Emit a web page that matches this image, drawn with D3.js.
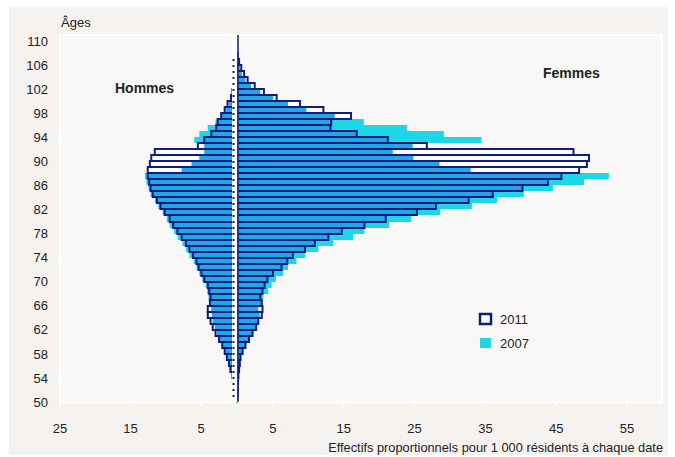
<!DOCTYPE html>
<html>
<head>
<meta charset="utf-8">
<script src="https://cdnjs.cloudflare.com/ajax/libs/d3/7.8.5/d3.min.js"></script>
<style>
  body { margin: 0; background: #fff; }
  svg { display: block; font-family: "Liberation Sans", Arial, sans-serif; }
</style>
</head>
<body>
<script>
'use strict'

// ages 50 .. 109, one bar per year
const ages = [50, 51, 52, 53, 54, 55, 56, 57, 58, 59,
              60, 61, 62, 63, 64, 65, 66, 67, 68, 69,
              70, 71, 72, 73, 74, 75, 76, 77, 78, 79,
              80, 81, 82, 83, 84, 85, 86, 87, 88, 89,
              90, 91, 92, 93, 94, 95, 96, 97, 98, 99,
              100, 101, 102, 103, 104, 105, 106, 107, 108, 109]

const hommes2011 = [0.1, 0.2, 0.3, 0.4, 0.5, 0.8, 1.0, 1.3, 1.6, 1.95,
                    2.4, 2.9, 3.3, 3.6, 4.0, 4.0, 3.7, 3.6, 3.8, 4.0,
                    4.5, 4.9, 5.3, 5.6, 6.1, 6.6, 7.1, 7.7, 8.3, 8.9,
                    9.4, 10.1, 10.7, 11.2, 11.8, 12.1, 12.3, 12.5, 12.5, 12.2,
                    12.0, 11.5, 5.4, 4.5, 3.5, 2.8, 2.6, 2.1, 1.6, 1.2,
                    0.7, 0.5, 0.4, 0.3, 0.2, 0.1, 0.1, 0, 0, 0]

const hommes2007 = [0.1, 0.2, 0.3, 0.4, 0.5, 0.7, 0.9, 1.2, 1.5, 1.9,
                    2.3, 2.7, 3.0, 3.3, 3.4, 3.5, 3.6, 3.9, 4.1, 4.3,
                    4.8, 5.2, 5.6, 6.0, 6.6, 7.1, 7.6, 8.2, 8.8, 9.4,
                    9.8, 10.4, 11.0, 11.5, 12.1, 12.4, 12.7, 12.9, 7.7, 6.3,
                    5.2, 4.5, 4.5, 5.9, 5.2, 4.0, 2.9, 2.0, 1.4, 1.0,
                    0.6, 0.4, 0.3, 0.2, 0.1, 0.1, 0, 0, 0, 0]

const femmes2011 = [0.05, 0.1, 0.1, 0.15, 0.2, 0.3, 0.4, 0.5, 0.8, 1.2,
                    1.7, 2.2, 2.7, 3.0, 3.5, 3.6, 3.5, 3.3, 3.6, 3.9,
                    4.3, 5.1, 6.3, 7.1, 7.9, 9.6, 11.0, 12.9, 14.8, 18.0,
                    21.0, 25.4, 28.1, 32.7, 36.1, 40.3, 43.9, 45.8, 48.3, 49.4,
                    49.7, 47.5, 26.8, 21.3, 16.9, 13.2, 13.3, 16.1, 12.2, 8.9,
                    5.6, 3.8, 2.5, 1.5, 1.0, 0.6, 0.3, 0.1, 0, 0]

const femmes2007 = [0.05, 0.1, 0.1, 0.15, 0.2, 0.3, 0.4, 0.5, 0.8, 1.2,
                    1.7, 2.2, 2.6, 2.9, 3.2, 3.0, 3.4, 3.7, 4.4, 4.9,
                    5.5, 6.5, 7.2, 8.4, 9.6, 11.5, 13.6, 16.4, 18.0, 21.5,
                    24.6, 28.7, 33.2, 36.7, 40.5, 44.6, 49.0, 52.5, 33.0, 28.6,
                    24.9, 22.0, 24.8, 34.5, 29.2, 24.0, 17.9, 13.8, 9.8, 7.2,
                    5.1, 3.3, 2.0, 1.2, 0.7, 0.4, 0.2, 0, 0, 0]

const ticksAges = [50, 54, 58, 62, 66, 70, 74, 78, 82, 86, 90, 94, 98, 102, 106, 110]
const ticksHommes = [25, 15, 5]
const ticksFemmes = [5, 15, 25, 35, 45, 55]
const annees = ['2011', '2007']

window.onload = function () {

  const width = 675, height = 457
  const plot = {left: 60, right: 662, top: 35, bottom: 402}
  const navy = '#111d7c', blue = '#22a6e6', cyan = '#1fd6e8', ink = '#222'

  const y = d3.scaleLinear().domain([50, 110]).range([plot.bottom, 41])
  const xH = d3.scaleLinear().domain([0, 25]).range([236, 59.5])
  const xF = d3.scaleLinear().domain([0, 60]).range([237, 662])

  const svg = d3.select('body').append('svg')
    .attr('width', width)
    .attr('height', height)

  // panel + plot area
  svg.append('rect')
    .attr('x', 9).attr('y', 7)
    .attr('width', 659).attr('height', 448)
    .attr('fill', '#f6f2f0')

  svg.append('rect')
    .attr('x', plot.left).attr('y', plot.top)
    .attr('width', plot.right - plot.left).attr('height', plot.bottom - plot.top)
    .attr('fill', '#faf8f7')
    .attr('stroke', '#fff')
    .attr('stroke-width', 2)

  const rows = ages.map((a, i) => ({
    age: a, h11: hommes2011[i], h07: hommes2007[i], f11: femmes2011[i], f07: femmes2007[i]
  }))

  // snap rows on whole pixels so the outlines stay crisp
  const top = d => Math.round(y(d.age + 1))
  const bandH = d => Math.round(y(d.age)) - Math.round(y(d.age + 1))

  // one side of the pyramid
  function side(cls, x, k11, k07, left) {
    const g = svg.append('g').attr('class', cls)
    const x0 = x(0)
    const span = v => left ? [x(v), x0] : [x0, x(v)]

    // 2007 filled
    g.selectAll('rect.a2007')
      .data(rows.filter(d => d[k07] > 0))
      .enter().append('rect')
      .attr('class', 'a2007')
      .attr('x', d => span(d[k07])[0])
      .attr('y', top)
      .attr('width', d => Math.abs(x(d[k07]) - x0))
      .attr('height', bandH)
      .attr('fill', cyan)

    const r11 = rows.filter(d => d[k11] > 0)

    // 2011 interior
    g.selectAll('rect.a2011')
      .data(r11)
      .enter().append('rect')
      .attr('class', 'a2011')
      .attr('x', d => span(d[k11])[0])
      .attr('y', top)
      .attr('width', d => Math.abs(x(d[k11]) - x0))
      .attr('height', bandH)
      .attr('fill', '#fff')

    // overlap of the two dates
    g.selectAll('rect.both')
      .data(r11)
      .enter().append('rect')
      .attr('class', 'both')
      .attr('x', d => span(Math.min(d[k11], d[k07]))[0])
      .attr('y', top)
      .attr('width', d => Math.abs(x(Math.min(d[k11], d[k07])) - x0))
      .attr('height', bandH)
      .attr('fill', blue)

    // 2011 outline
    g.selectAll('rect.edge')
      .data(r11)
      .enter().append('rect')
      .attr('class', 'edge')
      .attr('x', d => span(d[k11])[0])
      .attr('y', top)
      .attr('width', d => Math.abs(x(d[k11]) - x0))
      .attr('height', bandH)
      .attr('fill', 'none')
      .attr('stroke', navy)
      .attr('stroke-width', 2)
  }

  side('hommes', xH, 'h11', 'h07', true)
  side('femmes', xF, 'f11', 'f07', false)

  // gap between the two halves
  svg.append('rect')
    .attr('x', 232).attr('y', plot.top)
    .attr('width', 5.5).attr('height', plot.bottom - plot.top)
    .attr('fill', '#fff')

  svg.append('line')
    .attr('x1', 233.5).attr('x2', 233.5)
    .attr('y1', y(107)).attr('y2', plot.bottom - 2)
    .attr('stroke', navy)
    .attr('stroke-width', 2)
    .attr('stroke-dasharray', '2,4')

  svg.append('line')
    .attr('x1', 238).attr('x2', 238)
    .attr('y1', plot.top).attr('y2', plot.bottom)
    .attr('stroke', navy)
    .attr('stroke-width', 1.5)

  // axes
  const yAxis = svg.append('g')
    .attr('transform', 'translate(' + [plot.left, 0] + ')')
    .call(d3.axisLeft(y).tickValues(ticksAges).tickSize(0).tickPadding(12))
  yAxis.select('.domain').remove()

  const bottom = svg.append('g')
    .attr('transform', 'translate(' + [0, plot.bottom] + ')')
  bottom.append('g')
    .call(d3.axisBottom(xH).tickValues(ticksHommes).tickSizeInner(4).tickSizeOuter(0).tickPadding(18))
  bottom.append('g')
    .call(d3.axisBottom(xF).tickValues(ticksFemmes).tickSizeInner(4).tickSizeOuter(0).tickPadding(18))

  svg.selectAll('.tick text')
    .attr('fill', ink)
    .style('font-size', '13px')
    .style('font-family', '"Liberation Sans", Arial, sans-serif')
  bottom.selectAll('.domain, .tick line')
    .attr('stroke', '#fff')
    .attr('stroke-width', 2)

  // labels
  svg.append('text')
    .attr('x', 61).attr('y', 27)
    .attr('fill', ink)
    .style('font-size', '13px')
    .text('Âges')

  svg.append('text')
    .attr('x', 663).attr('y', 452)
    .attr('text-anchor', 'end')
    .attr('fill', ink)
    .style('font-size', '12.8px')
    .text('Effectifs proportionnels pour 1 000 résidents à chaque date')

  svg.append('text')
    .attr('x', 115).attr('y', 93)
    .attr('fill', ink)
    .style('font-size', '14px')
    .style('font-weight', 'bold')
    .text('Hommes')

  svg.append('text')
    .attr('x', 543).attr('y', 78)
    .attr('fill', ink)
    .style('font-size', '14px')
    .style('font-weight', 'bold')
    .text('Femmes')

  // legend
  const legend = svg.append('g')
    .attr('transform', 'translate(' + [479, 313] + ')')
    .selectAll('g')
    .data(annees)
    .enter().append('g')
    .attr('transform', (d, i) => 'translate(' + [0, i * 24] + ')')

  legend.append('rect')
    .attr('x', 1).attr('y', 1)
    .attr('width', 11).attr('height', 10)
    .attr('fill', (d, i) => i === 0 ? '#fff' : cyan)
    .attr('stroke', (d, i) => i === 0 ? navy : 'none')
    .attr('stroke-width', 2.5)

  legend.append('text')
    .attr('x', 21).attr('y', 10.5)
    .attr('fill', ink)
    .style('font-size', '13px')
    .text(d => d)
}
</script>
</body>
</html>
